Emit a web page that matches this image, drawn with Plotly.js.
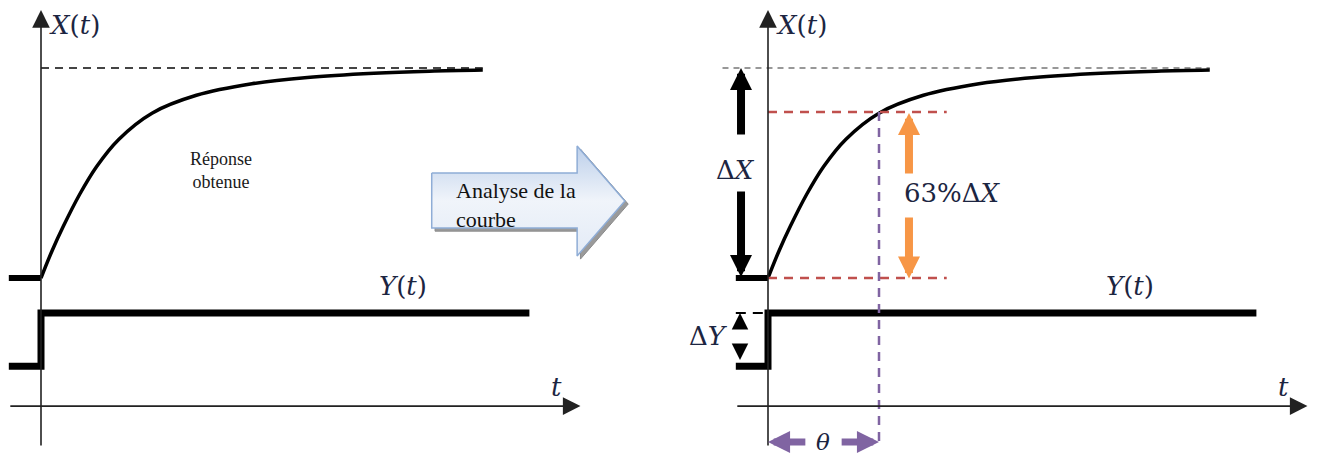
<!DOCTYPE html>
<html><head><meta charset="utf-8">
<script src="https://cdn.plot.ly/plotly-3.0.1.min.js"></script>
<style>html,body{margin:0;padding:0;background:#fff;}#chart{width:1318px;height:460px;}</style>
</head><body><div id="chart"></div>
<script>
// Time in units of the time constant θ; X in units of ΔX (initial X = 0, final X = 1)
const tResponse = [0, 0.1, 0.2, 0.35, 0.5, 0.7, 1.0, 1.4, 1.9, 2.4, 3.0, 3.5, 3.98];
const xResponse = [0, 0.13, 0.245, 0.40, 0.53, 0.66, 0.785, 0.87, 0.925, 0.955, 0.975, 0.985, 0.99];
const xInitial = 0;
const xFinal = 1;
const tBefore = -0.29;
const tStep = [tBefore, 0, 0, 4.4];
const yStep = [-0.42, -0.42, -0.167, -0.167];
const yLow = -0.42, yHigh = -0.167;
const timeAxisLevel = -0.61;
const tAxisEnd = 4.86;
const vAxisTop = 1.276, vAxisBottom = -0.805;
const theta = 1;
const readLevel = 0.79;           // level of the drawn "63 %" line
const asymptoteEnd = 3.98;
const labelsMath = {X: '<i>X</i>(<i>t</i>)', Y: '<i>Y</i>(<i>t</i>)', t: '<i>t</i>'};
// block arrow outline (left panel units)
const blockT = [3.52, 4.83, 4.83, 5.26, 4.83, 4.83, 3.52, 3.52];
const blockX = [0.5, 0.5, 0.629, 0.367, 0.105, 0.238, 0.238, 0.5];

const mathFont = {family: 'DejaVu Serif', size: 26, color: '#1c2541'};
const traces = [];
const ann = [];

function line(xa, x, y, color, width, dash) {
  traces.push({type: 'scatter', mode: 'lines', x: x, y: y, xaxis: xa, yaxis: 'y',
    line: {color: color, width: width, dash: dash || 'solid'}, hoverinfo: 'skip'});
}
function arrow(xa, x, y, ax, ay, color, width, size) {
  ann.push({xref: xa, yref: 'y', axref: xa, ayref: 'y', x: x, y: y, ax: ax, ay: ay,
    text: '', showarrow: true, arrowhead: 2, arrowwidth: width, arrowsize: size,
    arrowcolor: color, standoff: 0});
}
function label(xa, x, y, text, font, extra) {
  ann.push(Object.assign({xref: xa, yref: 'y', x: x, y: y, text: text, showarrow: false,
    font: font, xanchor: 'center', yanchor: 'middle'}, extra || {}));
}

function panel(xa, right) {
  arrow(xa, 0, vAxisTop, 0, vAxisBottom, '#222', 1.6, 2.2);
  arrow(xa, tAxisEnd, timeAxisLevel, tBefore, timeAxisLevel, '#222', 1.6, 2.2);
  if (right) line(xa, [-0.41, asymptoteEnd], [xFinal, xFinal], '#333', 1.2, '6px,5px');
  else line(xa, [0, asymptoteEnd], [xFinal, xFinal], '#444', 1.8, '8px,6px');
  line(xa, [tBefore, 0], [xInitial, xInitial], '#000', 6);
  traces.push({type: 'scatter', mode: 'lines', x: tResponse, y: xResponse, xaxis: xa, yaxis: 'y',
    line: {color: '#000', width: 3.5, shape: 'spline', smoothing: 1}, hoverinfo: 'skip'});
  line(xa, tStep, yStep, '#000', 7);
  label(xa, 0.306, 1.205, labelsMath.X, mathFont);
  label(xa, 3.26, -0.038, labelsMath.Y, mathFont);
  label(xa, 4.64, -0.52, labelsMath.t, mathFont);
}

// block arrow (left)
traces.push({type: 'scatter', mode: 'lines', x: blockT.map(v => v + 0.03), y: blockX.map(v => v - 0.015),
  xaxis: 'x', yaxis: 'y', fill: 'toself', fillcolor: '#9a9a9a', line: {color: '#8a8a8a', width: 1}, hoverinfo: 'skip'});
traces.push({type: 'scatter', mode: 'lines', x: blockT, y: blockX, xaxis: 'x', yaxis: 'y', fill: 'toself',
  fillgradient: {type: 'vertical', colorscale: [[0, '#e3ebf6'], [0.5, '#f0f4fa'], [1, '#bccfea']]},
  line: {color: '#8fadd6', width: 1.5}, hoverinfo: 'skip'});

panel('x', false);
panel('x2', true);

label('x', 1.62, 0.51, 'Réponse<br>obtenue', {family: 'Liberation Serif', size: 18, color: '#1a1a1a'});
label('x', 3.72, 0.35, 'Analyse de la<br>courbe', {family: 'Liberation Serif', size: 22, color: '#111'},
  {xanchor: 'left', align: 'left'});

const red = '#c0504d', purple = '#8064a2', orange = '#f79646';
line('x2', [0, 1.61], [readLevel, readLevel], red, 2.5, '9px,7px');
line('x2', [0, 1.61], [xInitial, xInitial], red, 2.5, '9px,7px');
line('x2', [theta, theta], [readLevel, vAxisBottom], purple, 2.5, '9px,7px');
line('x2', [tBefore, 0], [yHigh, yHigh], '#000', 2, '10px,7px');

arrow('x2', 1.27, 0.786, 1.27, 0.49, orange, 8, 0.55);
arrow('x2', 1.27, -0.003, 1.27, 0.295, orange, 8, 0.55);
label('x2', 1.66, 0.405, '63%Δ<i>X</i>', mathFont);

arrow('x2', -0.243, xFinal, -0.243, 0.676, '#000', 8, 0.55);
arrow('x2', -0.243, xInitial + 0.005, -0.243, 0.419, '#000', 8, 0.55);
label('x2', -0.297, 0.514, 'Δ<i>X</i>', mathFont);

arrow('x2', -0.252, yHigh, -0.252, -0.25, '#000', 3, 1.1);
arrow('x2', -0.252, yLow + 0.03, -0.252, -0.325, '#000', 3, 1.1);
label('x2', -0.54, -0.276, 'Δ<i>Y</i>', mathFont);

arrow('x2', 0, -0.781, 0.35, -0.781, purple, 7, 0.63);
arrow('x2', theta, -0.781, 0.65, -0.781, purple, 7, 0.63);
label('x2', 0.495, -0.781, '<i>θ</i>', {family: 'DejaVu Serif', size: 23, color: '#1c2541'});

const layout = {
  width: 1318, height: 460, margin: {l: 0, r: 0, t: 0, b: 0},
  paper_bgcolor: '#fff', plot_bgcolor: '#fff', showlegend: false,
  xaxis: {domain: [0, 1], range: [-0.3694, 11.5045], visible: false, fixedrange: true},
  xaxis2: {overlaying: 'x', anchor: 'y', range: [-6.9189, 4.955], visible: false, fixedrange: true},
  yaxis: {range: [-0.8667, 1.3238], visible: false, fixedrange: true},
  annotations: ann
};
Plotly.newPlot('chart', traces, layout, {staticPlot: true, displayModeBar: false});
</script></body></html>
